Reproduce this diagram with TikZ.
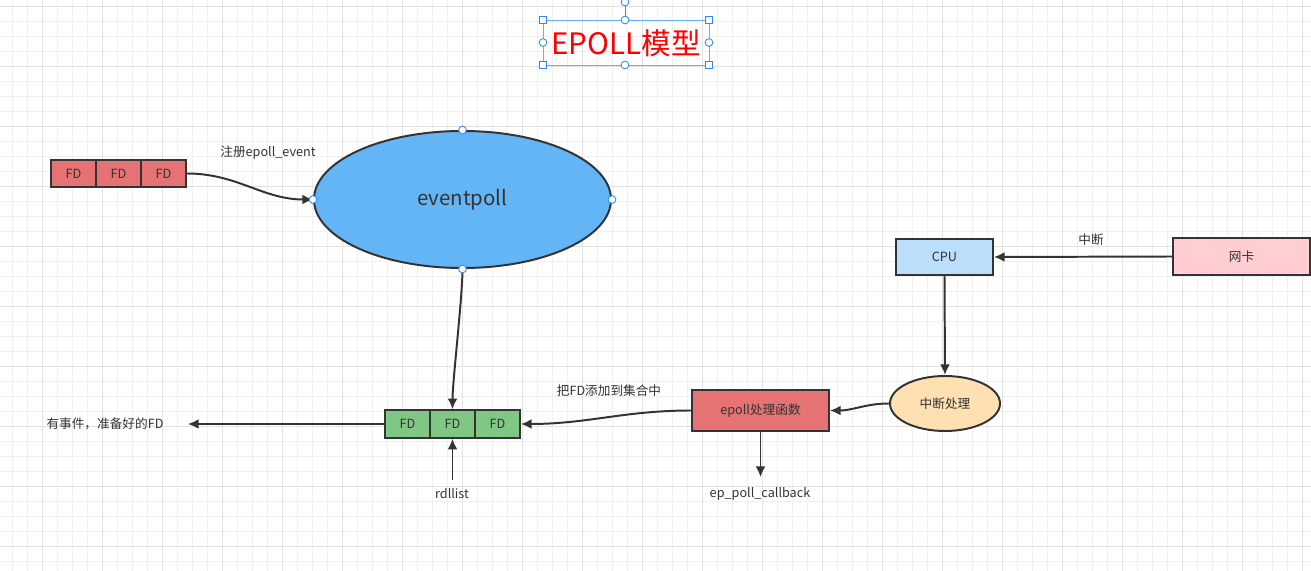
\documentclass[tikz,border=0pt]{standalone}
\usepackage{fontspec}
\setmainfont{Noto Sans CJK SC}
\usetikzlibrary{arrows.meta, shapes.geometric}
\definecolor{ink}{HTML}{333333}
\definecolor{gridlo}{HTML}{F0F0F0}
\definecolor{gridhi}{HTML}{E2E2E2}
\definecolor{selblue}{HTML}{2E8AF0}
\definecolor{fdred}{HTML}{E57373}
\definecolor{fdgreen}{HTML}{81C784}
\definecolor{pollblue}{HTML}{64B5F6}
\definecolor{cpublue}{HTML}{BBDEFB}
\definecolor{nicpink}{HTML}{FFCDD2}
\definecolor{irqorange}{HTML}{FFE0B2}

\begin{document}
\begin{tikzpicture}[x=0.025cm, y=-0.025cm, line width=1.4pt,
    txt/.style={font=\fontsize{9}{11}\selectfont, text=ink},
    cell/.style={txt, draw=ink, minimum width=1.125cm, minimum height=0.69cm, inner sep=0pt},
    lbl/.style={txt, inner sep=1pt},
    conn/.style={draw=ink, -{Latex[length=7.5pt,width=7pt]}},
    pin/.style={circle, draw=selblue, fill=white, line width=0.6pt, minimum size=5.5pt, inner sep=0pt}]
  \useasboundingbox (0,0) rectangle (1311,571);
  % grid
  \fill[white] (0,0) rectangle (1311,571);
  \foreach \gx in {12,27,...,1302} \draw[gridlo, line width=0.7pt] (\gx,0) -- (\gx,571);
  \foreach \gy in {6,21,...,561} \draw[gridlo, line width=0.7pt] (0,\gy) -- (1311,\gy);
  \foreach \gx in {42,102,...,1302} \draw[gridhi, line width=0.7pt] (\gx,0) -- (\gx,571);
  \foreach \gy in {6,66,...,546} \draw[gridhi, line width=0.7pt] (0,\gy) -- (1311,\gy);

  % title with selection frame
  \node[text=red, font=\fontsize{21}{25}\selectfont, inner sep=0pt] (title) at (626,43) {EPOLL模型};
  \draw[selblue!70, line width=0.6pt] (543,20) rectangle (709,65);
  \draw[selblue, line width=0.6pt] (625,20) -- (625,6);
  \foreach \sx/\sy in {543/20,709/20,543/65,709/65}
    \filldraw[draw=selblue, fill=white, line width=0.6pt] (\sx-3.3,\sy-3.3) rectangle (\sx+3.3,\sy+3.3);
  \foreach \sx/\sy in {625/20,625/65,543/42.5,709/42.5,625/2}
    \node[pin] at (\sx,\sy) {};

  % registered fds
  \node[cell, fill=fdred] (reg1) at (73.5,173.5) {FD};
  \node[cell, fill=fdred] (reg2) at (118.5,173.5) {FD};
  \node[cell, fill=fdred] (reg3) at (163.5,173.5) {FD};
  \node[lbl] (reglbl) at (268,153) {注册epoll\_event};

  \node[ellipse, draw=ink, fill=pollblue, minimum width=7.425cm, minimum height=3.425cm,
        inner sep=0pt, font=\fontsize{14.5}{17}\selectfont, text=ink] (evpoll) at (462.5,199.5) {eventpoll};

  % ready list
  \node[cell, fill=fdgreen] (rdl1) at (407.5,424) {FD};
  \node[cell, fill=fdgreen] (rdl2) at (452.5,424) {FD};
  \node[cell, fill=fdgreen] (rdl3) at (497.5,424) {FD};
  \node[lbl] (ready) at (105,424) {有事件，准备好的FD};
  \coordinate (readyend) at (188,424);
  \node[lbl] (rdllbl) at (452,494) {rdllist};
  \coordinate (rdlsrc) at (452.5,480);

  % interrupt side
  \node[cell, fill=cpublue, minimum width=2.425cm, minimum height=0.9cm] (cpu) at (944.5,257) {CPU};
  \node[cell, fill=nicpink, minimum width=3.425cm, minimum height=0.925cm] (nic) at (1241.5,256.5) {网卡};
  \node[lbl] (irqlbl) at (1091,240) {中断};
  \node[ellipse, draw=ink, fill=irqorange, minimum width=2.75cm, minimum height=1.375cm,
        inner sep=0pt, txt] (irq) at (945,403.5) {中断处理};
  \node[cell, fill=fdred, minimum width=3.425cm, minimum height=1.025cm] (handler) at (760.5,410.5) {epoll处理函数};
  \node[lbl] (addlbl) at (609,391) {把FD添加到集合中};
  \node[lbl] (cblbl) at (760,494) {ep\_poll\_callback};
  \coordinate (cbend) at (760.5,477);

  % connectors
  \draw[conn] (reg3.east) to[out=0, in=180] (evpoll.west);
  \draw[conn] (evpoll.south) to[out=-90, in=90, looseness=0.5] (rdl2.north);
  \draw[conn] (rdl1.west) -- (readyend);
  \draw[conn] (rdlsrc) -- (rdl2.south);
  \draw[conn] (nic.west) -- (cpu.east);
  \draw[conn] (cpu.south) -- (irq.north);
  \draw[conn] (irq.west) to[out=180, in=0] (handler.east);
  \draw[conn] (handler.south) -- (cbend);
  \draw[conn] (handler.west) to[out=180, in=0] (rdl3.east);

  % handles on eventpoll
  \foreach \a in {north,south,east,west}
    \node[pin] at (evpoll.\a) {};
\end{tikzpicture}
\end{document}
